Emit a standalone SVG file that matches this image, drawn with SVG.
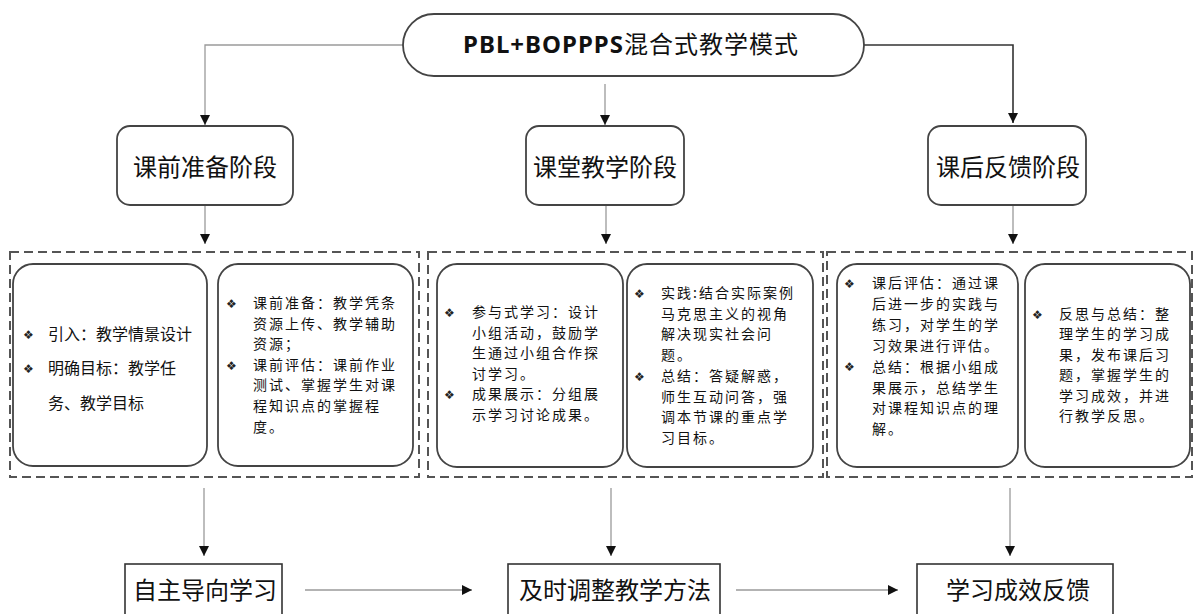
<svg xmlns="http://www.w3.org/2000/svg" width="1194" height="614" viewBox="0 0 1194 614">
<defs>
<style>
.bg{fill:#fff}
.pill,.stage,.inner{fill:#fff;stroke:#444;stroke-width:1.8}
.final{fill:#fff;stroke:#333;stroke-width:1.6}
.dash{fill:none;stroke:#555;stroke-width:2;stroke-dasharray:9 5}
.conn{fill:none;stroke:#9a9a9a;stroke-width:1.3}
.conn-dark{fill:none;stroke:#333;stroke-width:1.6}
.lbl{font-family:"Noto Sans CJK SC","Noto Sans",sans-serif;font-size:24px;fill:#111}
.txt{font-family:"Noto Sans CJK SC","Noto Sans",sans-serif;font-size:16px;fill:#111}
.txs{font-family:"Noto Sans CJK SC","Noto Sans",sans-serif;font-size:14px;letter-spacing:2px;fill:#111}
.blt{font-family:"DejaVu Sans",sans-serif;font-size:12px;fill:#222}
.title{font-family:"Noto Sans","Noto Sans CJK SC",sans-serif;font-size:24px;fill:#111}
</style>
<marker id="arr" viewBox="0 0 10 12" refX="10" refY="6" markerWidth="10" markerHeight="12" markerUnits="userSpaceOnUse" orient="auto">
<path d="M0,1 L10,6 L0,11 Z" fill="#111"/>
</marker>
</defs>
<rect class="bg" x="0" y="0" width="1194" height="614"/>

<g id="connectors">
<path class="conn" d="M403,45 H205 V125" marker-end="url(#arr)"/>
<path class="conn" d="M605,84 V125" marker-end="url(#arr)"/>
<path class="conn-dark" d="M864,45 H1013 V123" marker-end="url(#arr)"/>
<path class="conn" d="M205,205 V244" marker-end="url(#arr)"/>
<path class="conn" d="M606,205 V244" marker-end="url(#arr)"/>
<path class="conn" d="M1013,205 V244" marker-end="url(#arr)"/>
<path class="conn" d="M204,488 V556" marker-end="url(#arr)"/>
<path class="conn" d="M611,488 V556" marker-end="url(#arr)"/>
<path class="conn" d="M1010,488 V556" marker-end="url(#arr)"/>
<path class="conn" d="M305,590 H472" marker-end="url(#arr)"/>
<path class="conn" d="M736,590 H898" marker-end="url(#arr)"/>
</g>

<g id="title">
<rect class="pill" x="403" y="14" width="461" height="62" rx="31" ry="31"/>
<text class="title" x="463" y="53" textLength="335" lengthAdjust="spacing"><tspan font-weight="bold">PBL+BOPPPS</tspan><tspan font-family="Noto Sans CJK SC,sans-serif">混合式教学模式</tspan></text>
</g>

<g id="stage-pre">
<rect class="stage" x="117" y="126" width="176" height="79" rx="13"/>
<text class="lbl" x="205" y="176" text-anchor="middle">课前准备阶段</text>
</g>
<g id="stage-class">
<rect class="stage" x="526" y="126" width="158" height="79" rx="13"/>
<text class="lbl" x="605" y="176" text-anchor="middle">课堂教学阶段</text>
</g>
<g id="stage-post">
<rect class="stage" x="928" y="126" width="158" height="79" rx="13"/>
<text class="lbl" x="1008" y="176" text-anchor="middle">课后反馈阶段</text>
</g>

<g id="group-pre">
<rect class="dash" x="10" y="252" width="409" height="225"/>
</g>
<g id="group-class">
<rect class="dash" x="428" y="252" width="395" height="225"/>
</g>
<g id="group-post">
<rect class="dash" x="827" y="252" width="365" height="225"/>
</g>

<g id="box-pre-1">
<rect class="inner" x="13" y="264" width="194" height="202" rx="20"/>
<text class="blt" x="23" y="339">❖</text>
<text class="blt" x="23" y="373">❖</text>
<text class="txt" x="48" y="340">引入：教学情景设计</text>
<text class="txt" x="48" y="374">明确目标：教学任</text>
<text class="txt" x="48" y="409">务、教学目标</text>
</g>

<g id="box-pre-2">
<rect class="inner" x="218" y="264" width="195" height="202" rx="20"/>
<text class="blt" x="226" y="308">❖</text>
<text class="blt" x="226" y="370">❖</text>
<text class="txs"><tspan x="253" y="308">课前准备：教学凭条</tspan><tspan x="253" y="328.6">资源上传、教学辅助</tspan><tspan x="253" y="349.2">资源；</tspan><tspan x="253" y="369.8">课前评估：课前作业</tspan><tspan x="253" y="390.4">测试、掌握学生对课</tspan><tspan x="253" y="411">程知识点的掌握程</tspan><tspan x="253" y="431.6">度。</tspan></text>
</g>

<g id="box-class-1">
<rect class="inner" x="437" y="264" width="186" height="203" rx="20"/>
<text class="blt" x="444" y="317">❖</text>
<text class="blt" x="444" y="399">❖</text>
<text class="txs"><tspan x="472" y="317">参与式学习：设计</tspan><tspan x="472" y="337.5">小组活动，鼓励学</tspan><tspan x="472" y="358">生通过小组合作探</tspan><tspan x="472" y="378.5">讨学习。</tspan><tspan x="472" y="399">成果展示：分组展</tspan><tspan x="472" y="419.5">示学习讨论成果。</tspan></text>
</g>

<g id="box-class-2">
<rect class="inner" x="627" y="264" width="186" height="203" rx="20"/>
<text class="blt" x="634" y="298">❖</text>
<text class="blt" x="634" y="381">❖</text>
<text class="txs"><tspan x="661" y="298">实践:结合实际案例</tspan><tspan x="661" y="318.7">马克思主义的视角</tspan><tspan x="661" y="339.4">解决现实社会问</tspan><tspan x="661" y="360.1">题。</tspan><tspan x="661" y="380.8">总结：答疑解惑，</tspan><tspan x="661" y="401.5">师生互动问答，强</tspan><tspan x="661" y="422.2">调本节课的重点学</tspan><tspan x="661" y="442.9">习目标。</tspan></text>
</g>

<g id="box-post-1">
<rect class="inner" x="837" y="264" width="181" height="203" rx="20"/>
<text class="blt" x="844" y="288">❖</text>
<text class="blt" x="844" y="371">❖</text>
<text class="txs"><tspan x="872" y="288">课后评估：通过课</tspan><tspan x="872" y="308.9">后进一步的实践与</tspan><tspan x="872" y="329.8">练习，对学生的学</tspan><tspan x="872" y="350.7">习效果进行评估。</tspan><tspan x="872" y="371.6">总结：根据小组成</tspan><tspan x="872" y="392.5">果展示，总结学生</tspan><tspan x="872" y="413.4">对课程知识点的理</tspan><tspan x="872" y="434.3">解。</tspan></text>
</g>

<g id="box-post-2">
<rect class="inner" x="1025" y="264" width="165" height="203" rx="20"/>
<text class="blt" x="1032" y="319">❖</text>
<text class="txs"><tspan x="1059" y="319">反思与总结：整</tspan><tspan x="1059" y="339.4">理学生的学习成</tspan><tspan x="1059" y="359.8">果，发布课后习</tspan><tspan x="1059" y="380.2">题，掌握学生的</tspan><tspan x="1059" y="400.6">学习成效，并进</tspan><tspan x="1059" y="421">行教学反思。</tspan></text>
</g>

<g id="out-self">
<rect class="final" x="125" y="564" width="157" height="60"/>
<text class="lbl" x="205" y="599" text-anchor="middle">自主导向学习</text>
</g>
<g id="out-adjust">
<rect class="final" x="508" y="564" width="212" height="60"/>
<text class="lbl" x="615" y="599" text-anchor="middle">及时调整教学方法</text>
</g>
<g id="out-feedback">
<rect class="final" x="917" y="564" width="196" height="60"/>
<text class="lbl" x="1018" y="599" text-anchor="middle">学习成效反馈</text>
</g>
</svg>
